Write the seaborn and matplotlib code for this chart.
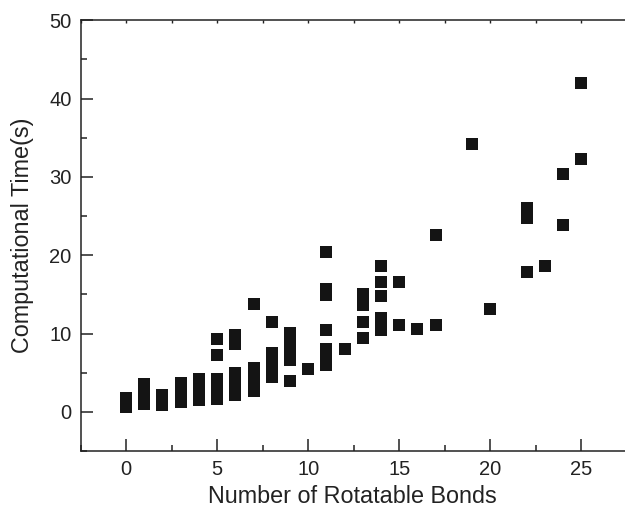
import matplotlib
matplotlib.use('Agg')
import matplotlib.pyplot as plt
import pandas as pd
import seaborn as sns
from matplotlib.ticker import MultipleLocator, FixedLocator

# values, one list per bond count
bonds_0 = [0.6, 1.0, 1.4, 1.8]
bonds_1 = [0.95, 1.5, 2.1, 2.8, 3.5]
bonds_2 = [0.9, 1.5, 2.2]
bonds_3 = [1.3, 1.9, 2.5, 3.1, 3.7]
bonds_4 = [1.5, 2.2, 2.9, 3.6, 4.25]
bonds_5 = [1.6, 2.3, 3.0, 3.6, 4.2, 7.3, 9.3]
bonds_6 = [2.1, 2.8, 3.5, 4.2, 4.9, 8.6, 9.2, 9.8]
bonds_7 = [2.65, 3.4, 4.1, 4.9, 5.6, 13.8]
bonds_8 = [4.5, 5.3, 6.0, 6.8, 7.5, 11.5]
bonds_9 = [3.9, 6.6, 7.3, 8.0, 8.7, 9.4, 10.1]
bonds_10 = [5.45]
bonds_11 = [6.0, 6.7, 7.4, 8.0, 10.5, 14.9, 15.3, 15.7, 20.4]
bonds_12 = [8.0]
bonds_13 = [9.4, 11.5, 13.7, 14.2, 14.7, 15.1]
bonds_14 = [10.4, 12.0, 14.8, 16.6, 18.6]
bonds_15 = [11.1, 16.55]
bonds_16 = [10.55]
bonds_17 = [11.1, 22.6]
bonds_19 = [34.2]
bonds_20 = [13.15]
bonds_22 = [17.9, 24.8, 25.4, 26.0]
bonds_23 = [18.6]
bonds_24 = [23.85, 30.4]
bonds_25 = [32.3, 42.0]

times = {
    0: bonds_0, 1: bonds_1, 2: bonds_2, 3: bonds_3, 4: bonds_4,
    5: bonds_5, 6: bonds_6, 7: bonds_7, 8: bonds_8, 9: bonds_9,
    10: bonds_10, 11: bonds_11, 12: bonds_12, 13: bonds_13, 14: bonds_14,
    15: bonds_15, 16: bonds_16, 17: bonds_17, 19: bonds_19, 20: bonds_20,
    22: bonds_22, 23: bonds_23, 24: bonds_24, 25: bonds_25,
}

rows = [(b, t) for b, vals in times.items() for t in vals]
df = pd.DataFrame(rows, columns=['bonds', 'time'])

sns.set_style('ticks')
plt.rcParams['font.family'] = ['Liberation Sans', 'DejaVu Sans']

fig = plt.figure(figsize=(6.25, 5.11), dpi=100)
ax = fig.add_axes([80.5 / 625, 60 / 511, 1 - 80.5 / 625, (451 - 20.2) / 511])

sns.scatterplot(data=df, x='bonds', y='time', marker='s', s=64,
                color='#141414', linewidth=0, ax=ax)

ax.set_xlim(-2.5, 27.4)
ax.set_ylim(-5, 50)

ax.xaxis.set_major_locator(MultipleLocator(5))
ax.xaxis.set_minor_locator(FixedLocator([-2.5, 2.5, 7.5, 12.5, 17.5, 22.5]))
ax.yaxis.set_major_locator(MultipleLocator(10))
ax.yaxis.set_minor_locator(FixedLocator([-5, 5, 15, 25, 35, 45]))

ax.tick_params(which='both', direction='in', width=1.1, colors='#222222',
               labelsize=14.5, labelcolor='#222222', bottom=True, left=True,
               top=False, right=False)
ax.tick_params(which='major', length=8.5, pad=6.5)
ax.tick_params(which='minor', length=4.5)

for side in ['left', 'bottom', 'top']:
    ax.spines[side].set_linewidth(1.1)
    ax.spines[side].set_color('#222222')
ax.spines['right'].set_visible(False)

# short ticks along the top edge
ax2 = ax.twiny()
ax2.set_xlim(ax.get_xlim())
ax2.xaxis.set_major_locator(MultipleLocator(2.5))
ax2.tick_params(direction='in', length=2, width=1.0, colors='#222222',
                labeltop=False)
for side in ['left', 'bottom', 'top', 'right']:
    ax2.spines[side].set_visible(False)

ax.set_xlabel('Number of Rotatable Bonds', fontsize=16.8, color='#222222', labelpad=4)
ax.set_ylabel('Computational Time(s)', fontsize=16.8, color='#222222', labelpad=11)

fig.savefig('out.png', dpi=100)
